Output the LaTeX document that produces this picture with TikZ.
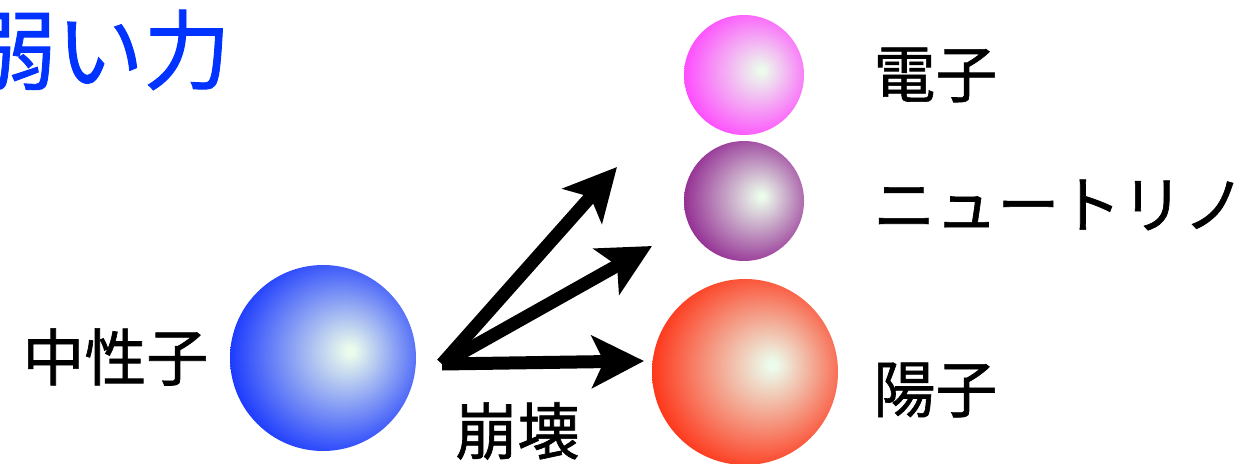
\documentclass[tikz,border=0pt]{standalone}
\usepackage{fontspec}
\newfontfamily\jpfont[FakeBold=1]{Noto Sans CJK JP}
\usepackage{xcolor}
\usepackage{tikz}
\usetikzlibrary{arrows.meta}
\usetikzlibrary{positioning}

% Colori delle particelle
\definecolor{neutrone}{RGB}{8,40,255}
\definecolor{elettrone}{RGB}{255,60,255}
\definecolor{neutrino}{RGB}{140,28,140}
\definecolor{protone}{RGB}{255,36,6}
\definecolor{riflesso}{RGB}{236,252,236}
\definecolor{titolo}{RGB}{0,51,255}

% Sfumatura radiale con il riflesso spostato a destra
\colorlet{sfera}{blue}
\pgfdeclareradialshading[sfera]{sfera}{\pgfqpoint{7.5bp}{2bp}}{%
  color(0bp)=(riflesso); color(1bp)=(riflesso); color(31bp)=(sfera); color(50bp)=(sfera)}

\begin{document}
\begin{tikzpicture}[
    x=0.5pt, y=-0.5pt,
    particella/.style={circle, inner sep=0pt, shading=sfera, /utils/exec={\colorlet{sfera}{#1}}},
    etichetta/.style={anchor=west, inner sep=0pt, font=\jpfont\fontsize{31}{31}\selectfont},
    decadimento/.style={-{Stealth[length=26pt, width=26pt, inset=6pt]}, line width=6.5pt}
]

    % Riquadro della figura
    \path[use as bounding box, clip] (0,0) rectangle (1256,464);

    % 1. Titolo (tagliato a sinistra)
    \node[anchor=east, inner sep=0pt, text=titolo, font=\jpfont\fontsize{43.5}{43.5}\selectfont] (titolo) at (231,50) {弱い力};

    % 2. Le particelle
    \node[particella=neutrone, minimum size=93pt] (n) at (323,358) {};
    \node[particella=elettrone, minimum size=60pt] (e) at (744,75) {};
    \node[particella=neutrino, minimum size=60pt] (nu) at (744,201) {};
    \node[particella=protone, minimum size=93pt] (p) at (745,372) {};

    % 3. Le frecce del decadimento
    \coordinate (split) at (442,364);
    \coordinate (fe) at (617,167);
    \coordinate (fnu) at (652,246);
    \coordinate (fp) at (644,361);
    \draw[decadimento] (split) -- (fe);
    \draw[decadimento] (split) -- (fnu);
    \draw[decadimento] (split) -- (fp);

    % 4. Le scritte
    \node[etichetta] (ln) at (22,357) {中性子};
    \node[etichetta] (ld) at (455,431) {崩壊};
    \node[etichetta] (le) at (873,75) {電子};
    \node[etichetta] (lnu) at (873,205) {ニュートリノ};
    \node[etichetta] (lp) at (873,390) {陽子};

\end{tikzpicture}
\end{document}
